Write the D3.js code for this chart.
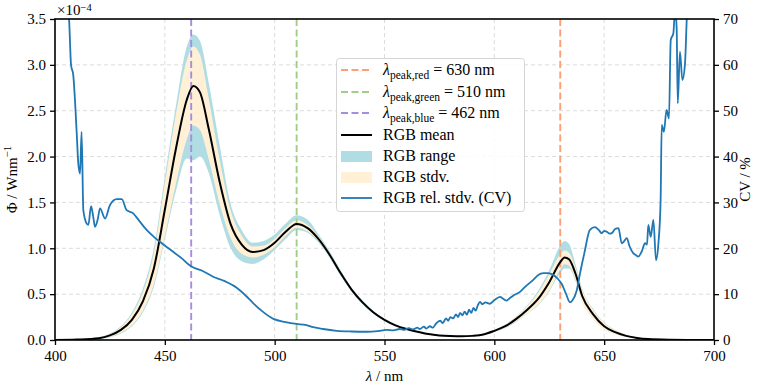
<!DOCTYPE html>
<html>
<head>
<meta charset="utf-8">
<script src="https://cdn.jsdelivr.net/npm/d3@7"></script>
<style>
  body { margin: 0; background: #fff; }
  svg { font-family: "Liberation Serif", "DejaVu Serif", serif; }
</style>
</head>
<body>
<svg id="chart" width="757" height="391"></svg>
<script>
// wavelength grid for the spectra (nm) and values in units of 1e-4 W/nm
var lambda = [400, 410, 420, 425, 430, 435, 440, 445, 450, 455, 460, 463, 466, 470, 475, 480, 485, 490, 495, 500, 505, 510, 515, 520, 525, 530, 535, 540, 545, 550, 555, 560, 565, 570, 575, 580, 585, 590, 595, 600, 605, 610, 615, 620, 625, 630, 632, 634, 637, 640, 645, 650, 655, 660, 665, 670, 680, 690, 700];
var rgbMean = [0, 0.005, 0.02, 0.05, 0.11, 0.22, 0.42, 0.78, 1.42, 2.08, 2.62, 2.77, 2.70, 2.30, 1.72, 1.26, 1.04, 0.96, 0.98, 1.06, 1.18, 1.265, 1.22, 1.10, 0.93, 0.73, 0.55, 0.41, 0.30, 0.22, 0.16, 0.12, 0.09, 0.065, 0.05, 0.043, 0.04, 0.045, 0.06, 0.10, 0.15, 0.23, 0.33, 0.45, 0.63, 0.85, 0.90, 0.88, 0.72, 0.48, 0.28, 0.15, 0.085, 0.045, 0.022, 0.01, 0.003, 0.001, 0];
var rgbStd = [0, 0.002, 0.006, 0.014, 0.03, 0.06, 0.10, 0.17, 0.29, 0.38, 0.43, 0.43, 0.41, 0.33, 0.24, 0.15, 0.10, 0.06, 0.05, 0.045, 0.042, 0.04, 0.035, 0.025, 0.02, 0.015, 0.012, 0.008, 0.006, 0.005, 0.004, 0.003, 0.003, 0.003, 0.002, 0.002, 0.002, 0.003, 0.005, 0.008, 0.014, 0.025, 0.04, 0.065, 0.09, 0.085, 0.075, 0.07, 0.065, 0.065, 0.05, 0.035, 0.02, 0.01, 0.005, 0.0025, 0.001, 0.0005, 0];
var rgbMin = [0, 0.003, 0.012, 0.03, 0.07, 0.15, 0.30, 0.58, 1.10, 1.62, 1.98, 1.96, 2.00, 1.82, 1.36, 1.00, 0.86, 0.83, 0.88, 0.98, 1.10, 1.20, 1.17, 1.06, 0.90, 0.70, 0.53, 0.39, 0.285, 0.21, 0.15, 0.11, 0.085, 0.06, 0.046, 0.04, 0.037, 0.04, 0.054, 0.088, 0.13, 0.20, 0.29, 0.38, 0.53, 0.73, 0.78, 0.78, 0.64, 0.42, 0.23, 0.12, 0.065, 0.032, 0.015, 0.007, 0.002, 0.0005, 0];
var rgbMax = [0, 0.008, 0.03, 0.07, 0.15, 0.30, 0.56, 1.00, 1.78, 2.55, 3.20, 3.33, 3.26, 2.80, 2.12, 1.48, 1.20, 1.06, 1.08, 1.15, 1.27, 1.36, 1.31, 1.15, 0.97, 0.76, 0.57, 0.43, 0.315, 0.23, 0.17, 0.13, 0.095, 0.07, 0.054, 0.047, 0.044, 0.05, 0.067, 0.11, 0.17, 0.26, 0.38, 0.54, 0.76, 1.03, 1.08, 1.05, 0.82, 0.56, 0.34, 0.19, 0.11, 0.058, 0.03, 0.014, 0.005, 0.002, 0];

// relative standard deviation (CV, %)
var cvLambda = [400, 403, 405, 406.4, 407.3, 408.3, 409.9, 410.6, 411.4, 412.1, 412.9, 414.4, 415.2, 416.4, 417.4, 418.2, 419.4, 420.5, 422.8, 425, 428.1, 430.4, 432.6, 435.6, 438, 441.7, 445, 448.6, 453, 457.7, 461, 463, 467, 472, 477, 482.7, 487, 490.3, 494, 499.4, 505, 510, 514, 517.6, 522, 528.2, 535, 541.9, 547, 551, 554, 557, 559, 561, 563, 565, 566, 568, 569, 570.7, 572, 573.5, 575.3, 576.5, 578, 579, 580, 581.3, 582.5, 583.5, 584.4, 585.5, 586.5, 587.5, 588.5, 589.5, 590.5, 591.5, 592.5, 593.5, 594.5, 596, 598, 600, 602.6, 604, 605.6, 607, 609, 611.7, 614, 617.7, 620, 622.3, 624.5, 626.8, 629, 630.7, 632.5, 634.5, 635.5, 637.5, 639, 641, 643.5, 645.8, 647.5, 648.9, 650, 651.2, 652.5, 653.5, 655, 656.5, 658, 659, 660.3, 661.5, 663.3, 664.5, 665.5, 667.1, 668.6, 669.5, 670.1, 671.2, 672.4, 673.6, 674.7, 675.7, 676.2, 677.2, 678.4, 679.5, 680.3, 681.5, 682.3, 683, 683.5, 684.5, 685.6, 686.8, 687.6, 689, 692, 700];
var cvValues = [95, 85, 75, 70, 60, 57.8, 45, 38.5, 36.3, 45.4, 28.3, 25.4, 25.1, 29.2, 26.9, 24.7, 26.2, 28.7, 26.5, 29.4, 30.7, 30.7, 28.3, 27.6, 26.2, 24, 22.5, 21.1, 19.5, 17.8, 16.4, 15.8, 15.1, 13.8, 12.9, 11.4, 9.6, 8.0, 6.4, 4.6, 3.9, 3.5, 3.3, 2.8, 2.4, 2.0, 1.85, 1.8, 1.95, 2.2, 2.1, 2.4, 2.2, 2.6, 2.3, 2.7, 2.4, 2.9, 2.5, 3.0, 2.7, 3.6, 4.2, 3.7, 4.7, 4.2, 5.0, 4.7, 5.6, 5.0, 5.9, 5.4, 6.2, 5.5, 6.6, 5.9, 7.0, 6.4, 7.6, 8.3, 7.8, 8.2, 7.9, 8.7, 9.4, 9.0, 8.6, 9.1, 9.8, 10.5, 11.6, 13.1, 14.2, 14.6, 14.6, 14.2, 13.3, 12.2, 10.2, 8.2, 8.6, 10.8, 14.5, 19, 24, 24.6, 24.0, 23.3, 23.8, 23.6, 23.2, 23.3, 24.2, 24.4, 21.1, 21.5, 22.2, 20.5, 18.9, 18.5, 18.2, 19.3, 21.1, 20.8, 25.1, 22.5, 26.2, 17.4, 21.1, 30.5, 46.9, 45.4, 50.2, 48.3, 65.4, 66.9, 72, 68, 51.6, 62.9, 56.7, 60.3, 70, 80, 90, 110];

var peakNames = ["red", "green", "blue"];
var peakValues = [630, 510, 462];
var peakColors = ["#fca077", "#a2cd88", "#a88ce0"];

var xTicks = [400, 450, 500, 550, 600, 650, 700];
var yTicks = [0, 0.5, 1, 1.5, 2, 2.5, 3, 3.5];
var y2Ticks = [0, 10, 20, 30, 40, 50, 60, 70];

var svg = d3.select("#chart");
var pLeft = 55, pRight = 714, pTop = 19, pBottom = 340;

var x = d3.scaleLinear().domain([400, 700]).range([pLeft, pRight]);
var y = d3.scaleLinear().domain([0, 3.5]).range([pBottom, pTop]);
var y2 = d3.scaleLinear().domain([0, 70]).range([pBottom, pTop]);

svg.append("defs").append("clipPath").attr("id", "plotclip")
    .append("rect").attr("x", pLeft).attr("y", pTop)
    .attr("width", pRight - pLeft).attr("height", pBottom - pTop);

// grid
var grid = svg.append("g");
xTicks.slice(1, -1).forEach(function(t) {
    grid.append("line").attr("x1", x(t)).attr("x2", x(t)).attr("y1", pTop).attr("y2", pBottom)
        .attr("stroke", "#dcdcdc").attr("stroke-width", 1).attr("stroke-dasharray", "4,3");
});
yTicks.slice(1, -1).forEach(function(t) {
    grid.append("line").attr("x1", pLeft).attr("x2", pRight).attr("y1", y(t)).attr("y2", y(t))
        .attr("stroke", "#dcdcdc").attr("stroke-width", 1).attr("stroke-dasharray", "4,3");
});

var rows = lambda.map(function(l, i) {
    return { l: l, m: rgbMean[i], s: rgbStd[i], lo: rgbMin[i], hi: rgbMax[i] };
});
var plot = svg.append("g").attr("clip-path", "url(#plotclip)");

var rangeArea = d3.area().curve(d3.curveMonotoneX)
    .x(function(d) { return x(d.l); })
    .y0(function(d) { return y(d.lo); })
    .y1(function(d) { return y(d.hi); });
plot.append("path").datum(rows).attr("d", rangeArea).attr("fill", "#b0dde4");

var stdArea = d3.area().curve(d3.curveMonotoneX)
    .x(function(d) { return x(d.l); })
    .y0(function(d) { return y(d.m - d.s); })
    .y1(function(d) { return y(d.m + d.s); });
plot.append("path").datum(rows).attr("d", stdArea).attr("fill", "#fff0d6");

peakValues.forEach(function(p, i) {
    plot.append("line").attr("x1", x(p)).attr("x2", x(p)).attr("y1", pTop).attr("y2", pBottom)
        .attr("stroke", peakColors[i]).attr("stroke-width", 1.9).attr("stroke-dasharray", "7,3.5");
});

var meanLine = d3.line().curve(d3.curveMonotoneX)
    .x(function(d) { return x(d.l); })
    .y(function(d) { return y(d.m); });
plot.append("path").datum(rows).attr("d", meanLine)
    .attr("fill", "none").attr("stroke", "#000").attr("stroke-width", 2);

var cvLine = d3.line().curve(d3.curveMonotoneX)
    .x(function(d, i) { return x(cvLambda[i]); })
    .y(function(d) { return y2(d); });
plot.append("path").datum(cvValues).attr("d", cvLine)
    .attr("fill", "none").attr("stroke", "#1f77b4").attr("stroke-width", 1.8);

// axes
function styleAxis(g) {
    g.select(".domain").remove();
    g.selectAll(".tick line").attr("stroke", "#000").attr("stroke-width", 1.3);
    g.selectAll(".tick text").attr("fill", "#000").style("font-size", "15px")
        .style("font-family", "'Liberation Serif', serif");
}
svg.append("g").attr("transform", "translate(0," + pBottom + ")")
    .call(d3.axisBottom(x).tickValues(xTicks).tickSize(5).tickPadding(5).tickFormat(d3.format("d")))
    .call(styleAxis);
svg.append("g").attr("transform", "translate(" + pLeft + ",0)")
    .call(d3.axisLeft(y).tickValues(yTicks).tickSize(5).tickPadding(4).tickFormat(d3.format(".1f")))
    .call(styleAxis);
svg.append("g").attr("transform", "translate(" + pRight + ",0)")
    .call(d3.axisRight(y2).tickValues(y2Ticks).tickSize(5).tickPadding(4).tickFormat(d3.format("d")))
    .call(styleAxis);

svg.append("rect").attr("x", pLeft).attr("y", pTop).attr("width", pRight - pLeft).attr("height", pBottom - pTop)
    .attr("fill", "none").attr("stroke", "#000").attr("stroke-width", 1.6);

// labels
var t = svg.append("text").attr("x", 57).attr("y", 15).style("font-size", "15px");
t.append("tspan").text("×10");
t.append("tspan").attr("dy", -4.5).style("font-size", "10.5px").text("−4");

svg.append("text").attr("x", (pLeft + pRight) / 2).attr("y", 381).attr("text-anchor", "middle")
    .style("font-size", "15px").html("<tspan font-style='italic'>λ</tspan> / nm");

var yl = svg.append("text").attr("transform", "translate(17," + (pTop + pBottom) / 2 + ") rotate(-90)")
    .attr("text-anchor", "middle").style("font-size", "15px");
yl.append("tspan").text("Φ / Wnm");
yl.append("tspan").attr("dy", -6).style("font-size", "11px").text("−1");

svg.append("text").attr("transform", "translate(750," + (pTop + pBottom) / 2 + ") rotate(-90)")
    .attr("text-anchor", "middle").style("font-size", "15px").text("CV / %");

// legend
var lg = svg.append("g");
lg.append("rect").attr("x", 336.5).attr("y", 58.5).attr("width", 188).attr("height", 153).attr("rx", 3)
    .attr("fill", "#fff").attr("fill-opacity", 0.85).attr("stroke", "#d5d5d5").attr("stroke-width", 1);
var rowY = [70, 92, 113, 135, 156, 177, 198];
peakNames.forEach(function(n, i) {
    lg.append("line").attr("x1", 341).attr("x2", 372).attr("y1", rowY[i]).attr("y2", rowY[i])
        .attr("stroke", peakColors[i]).attr("stroke-width", 1.9).attr("stroke-dasharray", "7,3.5");
    var tx = lg.append("text").attr("x", 383).attr("y", rowY[i] + 5).style("font-size", "16px");
    tx.append("tspan").attr("font-style", "italic").text("λ");
    tx.append("tspan").attr("dy", 4).style("font-size", "11.5px").text("peak," + n);
    tx.append("tspan").attr("dy", -4).text(" = " + peakValues[i] + " nm");
});
lg.append("line").attr("x1", 341).attr("x2", 372).attr("y1", rowY[3]).attr("y2", rowY[3])
    .attr("stroke", "#000").attr("stroke-width", 2);
lg.append("rect").attr("x", 341).attr("y", rowY[4] - 5).attr("width", 31).attr("height", 11).attr("fill", "#b0dde4");
lg.append("rect").attr("x", 341).attr("y", rowY[5] - 5).attr("width", 31).attr("height", 11).attr("fill", "#fff0d6");
lg.append("line").attr("x1", 341).attr("x2", 372).attr("y1", rowY[6]).attr("y2", rowY[6])
    .attr("stroke", "#1f77b4").attr("stroke-width", 1.8);
["RGB mean", "RGB range", "RGB stdv.", "RGB rel. stdv. (CV)"].forEach(function(s, i) {
    lg.append("text").attr("x", 383).attr("y", rowY[i + 3] + 5).style("font-size", "16px").text(s);
});
</script>
</body>
</html>
